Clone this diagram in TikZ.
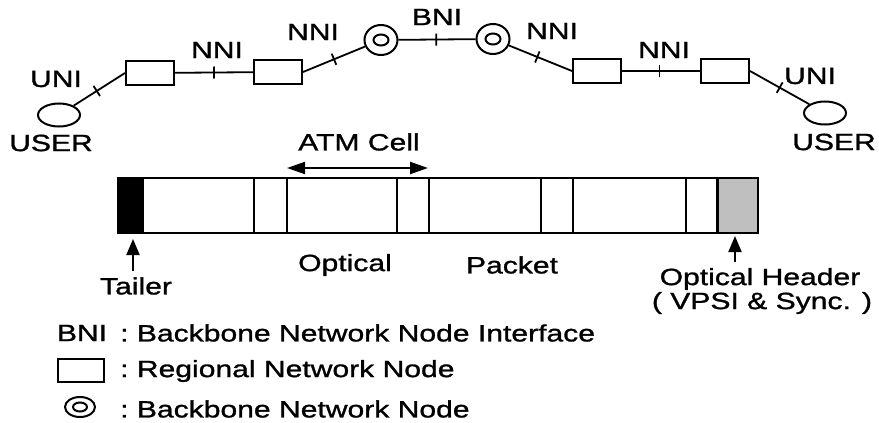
\documentclass[tikz,border=0pt]{standalone}
\usepackage{fontspec}
\setmainfont{Liberation Sans}[FakeStretch=1.28,FakeBold=1.2]
\usetikzlibrary{shapes.geometric,arrows.meta}
\newcommand\lblfont{\fontsize{23.5}{27}\selectfont}
\tikzset{
  lw/.style={line width=2pt},
  every node/.style={font=\lblfont, inner sep=0pt},
  rnode/.style={draw, lw, rectangle, minimum width=48pt, minimum height=24pt},
  unode/.style={draw, lw, ellipse, minimum width=42pt, minimum height=23pt},
  bnode/.style={draw, lw, ellipse, minimum width=33pt, minimum height=30pt},
  tickmark/.style={draw, line width=1.8pt, sloped, rectangle, minimum width=0pt, minimum height=12pt, inner sep=0pt},
  link/.style={line width=1.8pt},
  bigarrow/.style={lw, -{Triangle[length=16pt,width=13pt]}},
  seg/.style={lw}
}
\begin{document}
\begin{tikzpicture}[x=1pt,y=-1pt]
\useasboundingbox (0,0) rectangle (879,423);
% network nodes
\node[unode] (u1) at (59,115) {};
\node[rnode] (r1) at (150,73) {};
\node[rnode] (r2) at (278,72) {};
\node[bnode] (c1) at (381,40) {};
\node[bnode] (c2) at (493,39) {};
\node[rnode] (r3) at (597,71) {};
\node[rnode] (r4) at (725,71) {};
\node[unode] (u2) at (825,113) {};
\draw[lw] (c1.center) ellipse (7.5 and 5.5);
\draw[lw] (c2.center) ellipse (7.5 and 5.5);
% links with ticks
\draw[link] (u1) -- node[tickmark, pos=0.45] {} (r1.west);
\draw[link] (r1) -- node[tickmark, pos=0.5] {} (r2);
\draw[link] (r2.east) -- node[tickmark, pos=0.5] {} (c1);
\draw[link] (c1) -- node[tickmark, pos=0.49] {} (c2);
\draw[link] (c2) -- node[tickmark, pos=0.45] {} (r3.west);
\draw[link] (r3) -- node[tickmark, pos=0.48] {} (r4);
\draw[link] (r4.east) -- node[tickmark, pos=0.5] {} (u2);
% labels
\node (uni1) at (56,79) {UNI};
\node (user1) at (51,143) {USER};
\node (nni1) at (217,50) {NNI};
\node (nni2) at (313,32) {NNI};
\node (bni) at (437,17) {BNI};
\node (nni3) at (552,31) {NNI};
\node (nni4) at (664,50) {NNI};
\node (uni2) at (810,76) {UNI};
\node (user2) at (834,142) {USER};
% packet
\fill (118,178) rectangle (144,233);
\fill[black!25] (717,178) rectangle (758,233);
\draw[seg] (118,178) rectangle (758,233);
\foreach \x in {254,287,397,429,541,573,686} \draw[seg] (\x,178) -- (\x,233);
\draw[line width=3pt] (717,178) -- (717,233);
\coordinate (atmL) at (287,168);
\coordinate (atmR) at (428,168);
\draw[lw, {Triangle[length=18pt,width=12pt]}-{Triangle[length=18pt,width=12pt]}] (atmL) -- (atmR);
\node (atm) at (359,142) {ATM Cell};
\node (opt) at (345,265) {Optical};
\node (pkt) at (512,265) {Packet};
\node (tailer) at (136,286) {Tailer};
\coordinate (tailtip) at (133,239);
\draw[bigarrow] (tailer.north -| tailtip) ++(0,-6) -- (tailtip);
\node (ohdr) at (760,279) {Optical Header};
\node (vpsi) at (762,303) {( VPSI \& Sync. )};
\coordinate (hdrtip) at (735,236);
\draw[bigarrow] (ohdr.north -| hdrtip) ++(0,-6) -- (hdrtip);
% legend
\node (lbni) at (82,333) {BNI};
\node[anchor=west] (l1) at (120,333) {:\ Backbone Network Node Interface};
\node[rnode, minimum width=46pt, minimum height=23pt] (lr) at (81,370) {};
\node[anchor=west] (l2) at (120,371) {:\ Regional Network Node};
\node[draw, lw, ellipse, minimum width=30pt, minimum height=20pt] (lc) at (80,407) {};
\draw[lw] (lc.center) ellipse (7 and 4.5);
\node[anchor=west] (l3) at (120,409) {:\ Backbone Network Node};
\end{tikzpicture}
\end{document}
